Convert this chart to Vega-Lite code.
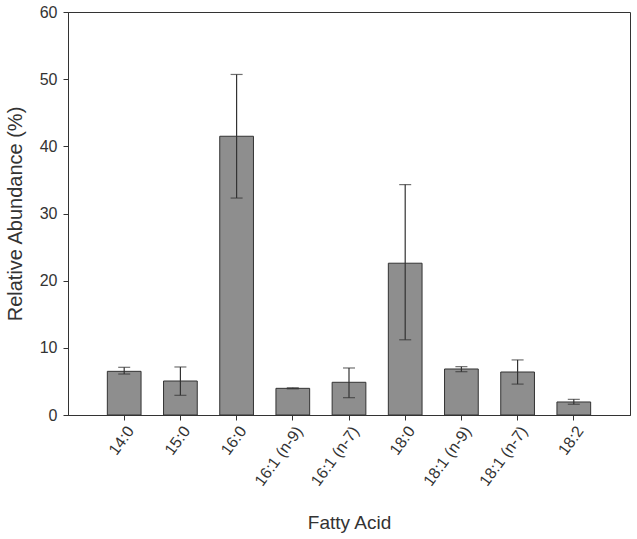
{
  "$schema": "https://vega.github.io/schema/vega-lite/v6.json",
  "autosize": "none",
  "width": 562,
  "height": 403,
  "padding": {"left": 68, "top": 12, "right": 7, "bottom": 124},
  "background": "white",
  "config": {
    "font": "Liberation Sans",
    "view": {"stroke": "#333333", "strokeWidth": 1}
  },
  "data": {
    "values": [
      {"acid": "14:0", "mean": 6.5, "lo": 6.1, "hi": 7.1},
      {"acid": "15:0", "mean": 5.06, "lo": 2.93, "hi": 7.15},
      {"acid": "16:0", "mean": 41.5, "lo": 32.3, "hi": 50.7},
      {"acid": "16:1 (n-9)", "mean": 3.97, "lo": 3.9, "hi": 4.05},
      {"acid": "16:1 (n-7)", "mean": 4.87, "lo": 2.58, "hi": 7.0},
      {"acid": "18:0", "mean": 22.6, "lo": 11.2, "hi": 34.3},
      {"acid": "18:1 (n-9)", "mean": 6.85, "lo": 6.45, "hi": 7.2},
      {"acid": "18:1 (n-7)", "mean": 6.4, "lo": 4.6, "hi": 8.2},
      {"acid": "18:2", "mean": 1.94, "lo": 1.6, "hi": 2.33}
    ]
  },
  "encoding": {
    "x": {
      "field": "acid",
      "type": "nominal",
      "sort": null,
      "scale": {"paddingInner": 0.4, "paddingOuter": 0.7},
      "axis": {
        "title": "Fatty Acid",
        "titleFontSize": 19,
        "titleFontWeight": "normal",
        "titleColor": "#333333",
        "titlePadding": 25,
        "labelAngle": -54,
        "labelAlign": "right",
        "labelBaseline": "top",
        "labelFontSize": 16,
        "labelColor": "#333333",
        "labelPadding": 3,
        "tickColor": "#333333",
        "tickSize": 5,
        "domainColor": "#333333"
      }
    }
  },
  "layer": [
    {
      "mark": {"type": "bar", "fill": "#8e8e8e", "stroke": "#333333", "strokeWidth": 1},
      "encoding": {
        "y": {
          "field": "mean",
          "type": "quantitative",
          "scale": {"domain": [0, 60], "nice": false},
          "axis": {
            "title": "Relative Abundance (%)",
            "titleFontSize": 20,
            "titleFontWeight": "normal",
            "titleColor": "#333333",
            "titlePadding": 14,
            "values": [0, 10, 20, 30, 40, 50, 60],
            "grid": false,
            "labelFontSize": 16,
            "labelColor": "#333333",
            "labelPadding": 6,
            "tickColor": "#333333",
            "tickSize": 5,
            "domainColor": "#333333"
          }
        }
      }
    },
    {
      "mark": {"type": "rule", "color": "#333333", "strokeWidth": 1.2},
      "encoding": {
        "y": {"field": "lo", "type": "quantitative"},
        "y2": {"field": "hi"}
      }
    },
    {
      "mark": {"type": "tick", "color": "#333333", "size": 12, "thickness": 1.2, "orient": "horizontal"},
      "encoding": {"y": {"field": "lo", "type": "quantitative"}}
    },
    {
      "mark": {"type": "tick", "color": "#333333", "size": 12, "thickness": 1.2, "orient": "horizontal"},
      "encoding": {"y": {"field": "hi", "type": "quantitative"}}
    }
  ]
}
